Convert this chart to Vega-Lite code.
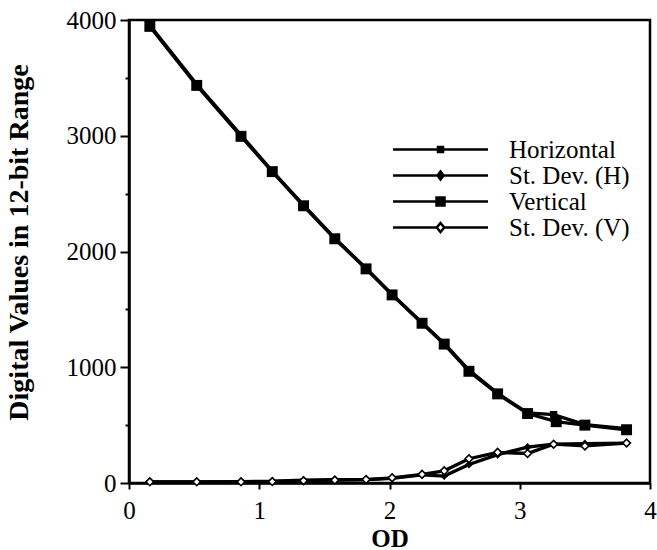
{
  "$schema": "https://vega.github.io/schema/vega-lite/v6.json",
  "width": 521,
  "height": 463,
  "autosize": {"type": "none"},
  "padding": {"left": 129, "top": 20, "right": 7, "bottom": 67},
  "background": "white",
  "config": {
    "view": {"stroke": "black", "strokeWidth": 2.5},
    "axis": {
      "domainColor": "black", "domainWidth": 2.5, "tickColor": "black", "tickWidth": 2,
      "labelFont": "Liberation Serif", "labelFontSize": 25, "labelColor": "black",
      "titleFont": "Liberation Serif", "titleFontSize": 28, "titleFontWeight": "bold", "titleColor": "black",
      "grid": false
    }
  },
  "data": {"values": [
    {"od": 0.16, "value": 3955, "series": "Horizontal"},
    {"od": 0.52, "value": 3445, "series": "Horizontal"},
    {"od": 0.86, "value": 3005, "series": "Horizontal"},
    {"od": 1.10, "value": 2695, "series": "Horizontal"},
    {"od": 1.34, "value": 2400, "series": "Horizontal"},
    {"od": 1.58, "value": 2115, "series": "Horizontal"},
    {"od": 1.82, "value": 1855, "series": "Horizontal"},
    {"od": 2.02, "value": 1630, "series": "Horizontal"},
    {"od": 2.25, "value": 1385, "series": "Horizontal"},
    {"od": 2.42, "value": 1207, "series": "Horizontal"},
    {"od": 2.61, "value": 975, "series": "Horizontal"},
    {"od": 2.83, "value": 775, "series": "Horizontal"},
    {"od": 3.06, "value": 605, "series": "Horizontal"},
    {"od": 3.26, "value": 590, "series": "Horizontal"},
    {"od": 3.50, "value": 505, "series": "Horizontal"},
    {"od": 3.82, "value": 470, "series": "Horizontal"},
    {"od": 0.16, "value": 3945, "series": "Vertical"},
    {"od": 0.52, "value": 3435, "series": "Vertical"},
    {"od": 0.86, "value": 2995, "series": "Vertical"},
    {"od": 1.10, "value": 2690, "series": "Vertical"},
    {"od": 1.34, "value": 2395, "series": "Vertical"},
    {"od": 1.58, "value": 2110, "series": "Vertical"},
    {"od": 1.82, "value": 1850, "series": "Vertical"},
    {"od": 2.02, "value": 1625, "series": "Vertical"},
    {"od": 2.25, "value": 1380, "series": "Vertical"},
    {"od": 2.42, "value": 1200, "series": "Vertical"},
    {"od": 2.61, "value": 965, "series": "Vertical"},
    {"od": 2.83, "value": 770, "series": "Vertical"},
    {"od": 3.06, "value": 600, "series": "Vertical"},
    {"od": 3.28, "value": 530, "series": "Vertical"},
    {"od": 3.50, "value": 500, "series": "Vertical"},
    {"od": 3.82, "value": 460, "series": "Vertical"},
    {"od": 0.16, "value": 10, "series": "St. Dev. (H)"},
    {"od": 0.52, "value": 10, "series": "St. Dev. (H)"},
    {"od": 0.86, "value": 12, "series": "St. Dev. (H)"},
    {"od": 1.10, "value": 15, "series": "St. Dev. (H)"},
    {"od": 1.34, "value": 25, "series": "St. Dev. (H)"},
    {"od": 1.58, "value": 28, "series": "St. Dev. (H)"},
    {"od": 1.82, "value": 30, "series": "St. Dev. (H)"},
    {"od": 2.02, "value": 40, "series": "St. Dev. (H)"},
    {"od": 2.25, "value": 70, "series": "St. Dev. (H)"},
    {"od": 2.42, "value": 60, "series": "St. Dev. (H)"},
    {"od": 2.61, "value": 160, "series": "St. Dev. (H)"},
    {"od": 2.83, "value": 245, "series": "St. Dev. (H)"},
    {"od": 3.06, "value": 310, "series": "St. Dev. (H)"},
    {"od": 3.26, "value": 335, "series": "St. Dev. (H)"},
    {"od": 3.50, "value": 340, "series": "St. Dev. (H)"},
    {"od": 3.82, "value": 345, "series": "St. Dev. (H)"},
    {"od": 0.16, "value": 10, "series": "St. Dev. (V)"},
    {"od": 0.52, "value": 10, "series": "St. Dev. (V)"},
    {"od": 0.86, "value": 10, "series": "St. Dev. (V)"},
    {"od": 1.10, "value": 12, "series": "St. Dev. (V)"},
    {"od": 1.34, "value": 20, "series": "St. Dev. (V)"},
    {"od": 1.58, "value": 25, "series": "St. Dev. (V)"},
    {"od": 1.82, "value": 30, "series": "St. Dev. (V)"},
    {"od": 2.02, "value": 45, "series": "St. Dev. (V)"},
    {"od": 2.25, "value": 75, "series": "St. Dev. (V)"},
    {"od": 2.42, "value": 105, "series": "St. Dev. (V)"},
    {"od": 2.61, "value": 210, "series": "St. Dev. (V)"},
    {"od": 2.83, "value": 265, "series": "St. Dev. (V)"},
    {"od": 3.06, "value": 255, "series": "St. Dev. (V)"},
    {"od": 3.26, "value": 335, "series": "St. Dev. (V)"},
    {"od": 3.50, "value": 320, "series": "St. Dev. (V)"},
    {"od": 3.82, "value": 345, "series": "St. Dev. (V)"}
  ]},
  "encoding": {
    "x": {
      "field": "od", "type": "quantitative",
      "scale": {"domain": [0, 4], "nice": false, "zero": false},
      "axis": {
        "title": "OD",
        "values": [0, 0.5, 1, 1.5, 2, 2.5, 3, 3.5, 4],
        "format": "d",
        "labelExpr": "datum.value % 1 === 0 ? datum.label : ''",
        "tickSize": 6, "labelPadding": 9, "labelFlush": false, "labelOverlap": false,
        "titleFontSize": 25, "titleY": 55, "titleBaseline": "middle"
      }
    },
    "y": {
      "field": "value", "type": "quantitative",
      "scale": {"domain": [0, 4000], "nice": false},
      "axis": {
        "title": "Digital Values in 12-bit Range",
        "values": [0, 500, 1000, 1500, 2000, 2500, 3000, 3500, 4000],
        "format": "d",
        "labelExpr": "datum.value % 1000 === 0 ? datum.label : ''",
        "tickSize": {"condition": {"test": "datum.value % 1000 === 0", "value": 9}, "value": 4},
        "labelPadding": 4, "labelOverlap": false, "labelFlush": false,
        "titleX": -110, "titleY": 222, "titleBaseline": "middle"
      }
    }
  },
  "layer": [
    {
      "mark": {"type": "line", "color": "black", "strokeWidth": 3.3},
      "encoding": {"detail": {"field": "series"}}
    },
    {
      "transform": [{"filter": "datum.series === 'Horizontal'"}],
      "mark": {"type": "point", "shape": "square", "filled": true, "color": "black", "size": 55, "opacity": 1}
    },
    {
      "transform": [{"filter": "datum.series === 'Vertical'"}],
      "mark": {"type": "point", "shape": "square", "filled": true, "color": "black", "size": 120, "opacity": 1}
    },
    {
      "transform": [{"filter": "datum.series === 'St. Dev. (H)'"}],
      "mark": {"type": "point", "shape": "diamond", "filled": true, "color": "black", "size": 65, "opacity": 1}
    },
    {
      "transform": [{"filter": "datum.series === 'St. Dev. (V)'"}],
      "mark": {"type": "point", "shape": "diamond", "filled": true, "fill": "white", "stroke": "black", "strokeWidth": 1.6, "size": 60, "opacity": 1}
    },
    {
      "transform": [{"filter": "false"}],
      "mark": {"type": "point", "filled": true, "stroke": "black", "strokeWidth": 2.5, "size": 100, "opacity": 1},
      "encoding": {
        "shape": {
          "field": "series", "type": "nominal",
          "scale": {
            "domain": ["Horizontal", "St. Dev. (H)", "Vertical", "St. Dev. (V)"],
            "range": [
              "M-9.5,0H9.5M-0.5,-0.5H0.5V0.5H-0.5Z",
              "M-9.5,0H9.5M0,-0.8L0.6,0L0,0.8L-0.6,0Z",
              "M-9.5,0H9.5M-0.8,-0.8H0.8V0.8H-0.8Z",
              "M-9.5,0H-0.75M0.75,0H9.5M0,-0.9L0.75,0L0,0.9L-0.75,0Z"
            ]
          },
          "legend": {
            "title": null, "orient": "none", "legendX": 299, "legendY": 117,
            "symbolSize": 100, "symbolStrokeWidth": 2.5, "symbolStrokeColor": "black", "symbolOpacity": 1,
            "labelFont": "Liberation Serif", "labelFontSize": 25, "labelColor": "black",
            "labelOffset": 56, "rowPadding": 0, "labelLimit": 300,
            "encode": {"symbols": {"update": {"stroke": {"value": "black"}, "strokeWidth": {"value": 2.5}, "opacity": {"value": 1}}}}
          }
        },
        "fill": {
          "field": "series", "type": "nominal",
          "scale": {
            "domain": ["Horizontal", "St. Dev. (H)", "Vertical", "St. Dev. (V)"],
            "range": ["black", "black", "black", "white"]
          },
          "legend": {
            "title": null, "orient": "none", "legendX": 299, "legendY": 117,
            "symbolSize": 100, "symbolStrokeWidth": 2.5, "symbolStrokeColor": "black", "symbolOpacity": 1,
            "labelFont": "Liberation Serif", "labelFontSize": 25, "labelColor": "black",
            "labelOffset": 56, "rowPadding": 0, "labelLimit": 300,
            "encode": {"symbols": {"update": {"stroke": {"value": "black"}, "strokeWidth": {"value": 2.5}, "opacity": {"value": 1}}}}
          }
        }
      }
    }
  ]
}
